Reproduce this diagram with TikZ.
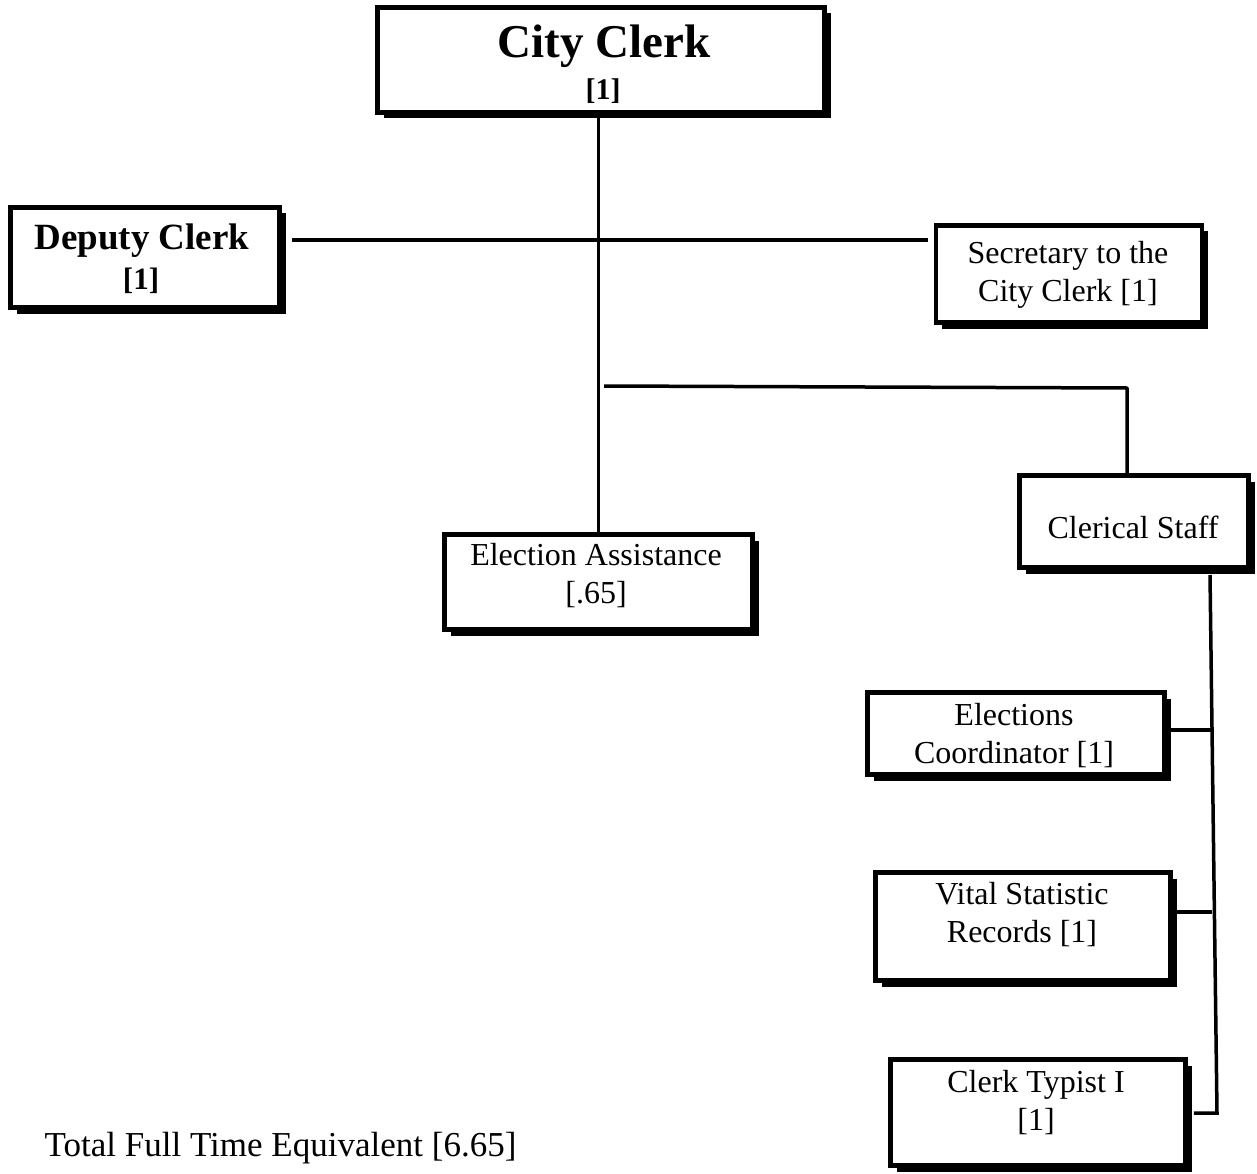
\documentclass[tikz,border=0pt]{standalone}
\usepackage{fontspec}
\setmainfont{Liberation Serif}
\usetikzlibrary{shadows,backgrounds}

\tikzset{
  orgbox/.style={draw=black, line width=4.5pt, fill=white, rectangle,
    inner sep=0pt,
    drop shadow={shadow xshift=6pt, shadow yshift=-6pt, fill=black, opacity=1}},
  lbl/.style={align=center, anchor=base, inner sep=0pt,
    font=\fontsize{32}{38}\selectfont},
  boldlbl/.style={lbl, font=\fontsize{37}{39}\selectfont\bfseries},
  link/.style={draw=black, line width=3.5pt}
}

\begin{document}
\begin{tikzpicture}[x=1pt, y=-1pt]
\useasboundingbox (0,0) rectangle (1257,1174);

% junction points on the connectors
\coordinate (j1) at (597,240);
\coordinate (b2) at (604,386);
\coordinate (j2) at (1127,388);
\coordinate (s0) at (1210,575);
\coordinate (s1) at (1211,730);
\coordinate (s2) at (1212,912);
\coordinate (s3) at (1217,1113);

% boxes
\node[orgbox, minimum width=447pt, minimum height=105pt] (clerk) at (601,60) {};
\node[orgbox, minimum width=269pt, minimum height=100pt] (deputy) at (145,257.5) {};
\node[orgbox, minimum width=266pt, minimum height=97pt] (secretary) at (1069,274) {};
\node[orgbox, minimum width=229pt, minimum height=92pt] (clerical) at (1134,521.5) {};
\node[orgbox, minimum width=308pt, minimum height=95pt] (election) at (598.5,582) {};
\node[orgbox, minimum width=297pt, minimum height=82pt] (coordinator) at (1016,733.5) {};
\node[orgbox, minimum width=295pt, minimum height=108pt] (vital) at (1023,926.5) {};
\node[orgbox, minimum width=295pt, minimum height=106pt] (typist) at (1038,1112.5) {};

% connectors, kept behind the boxes
\begin{scope}[on background layer]
\draw[link] (clerk.south -| election.north) -- (election.north);
\draw[link] ([xshift=10pt]deputy.east |- j1) -- ([xshift=-6pt]secretary.west |- j1);
\draw[link, line join=round] (b2) -- (j2) -- (j2 |- clerical.north);
\draw[link, line join=miter] (s0) -- (s3) -- ([xshift=6pt]typist.east |- s3);
\draw[link] (coordinator.east |- s1) -- (s1);
\draw[link] (vital.east |- s2) -- (s2);
\end{scope}

% box texts (base anchor = baseline of the last line)
\node[lbl, font=\fontsize{47}{49}\selectfont\bfseries] (clerkt) at (604,58) {City Clerk};
\node[lbl, font=\fontsize{30}{32}\selectfont\bfseries] (clerkn) at (603,100) {[1]};
\node[boldlbl] (deputyt) at (142,249) {Deputy Clerk};
\node[lbl, font=\fontsize{31}{33}\selectfont\bfseries] (deputyn) at (141,289) {[1]};
\node[lbl] (secretaryt) at (1068,301) {Secretary to the\\City Clerk [1]};
\node[lbl] (clericalt) at (1133,538) {Clerical Staff};
\node[lbl] (electiont) at (596,603) {Election Assistance\\{}[.65]};
\node[lbl] (coordinatort) at (1014,763) {Elections\\Coordinator [1]};
\node[lbl] (vitalt) at (1022,942) {Vital Statistic\\Records [1]};
\node[lbl] (typistt) at (1036,1130) {Clerk Typist I\\{}[1]};

% footnote
\node[lbl, font=\fontsize{35}{40}\selectfont] (total) at (280.5,1156) {Total Full Time Equivalent [6.65]};
\end{tikzpicture}
\end{document}
